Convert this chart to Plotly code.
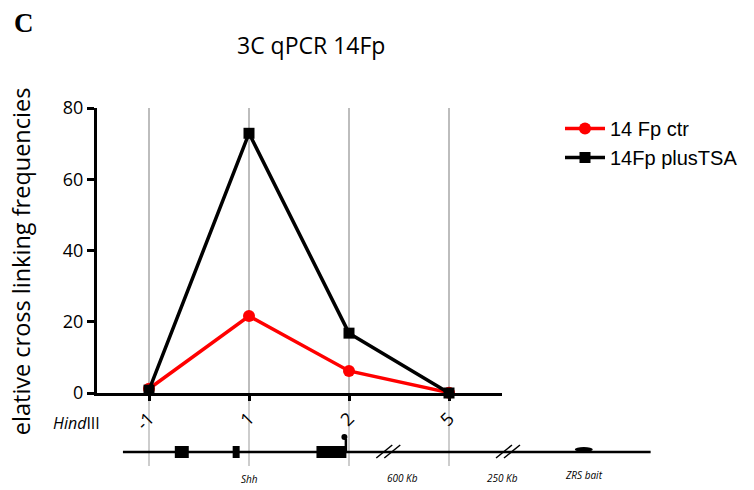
import plotly.graph_objects as go

# 3C-qPCR interaction profile, ZRS bait
sites = ["-1", "1", "2", "5"]
ctr_values = [1.2, 21.6, 6.2, 0.1]
tsa_values = [0.8, 72.9, 16.8, 0.0]
series_names = ["14 Fp ctr", "14Fp plusTSA"]
y_ticks = [0, 20, 40, 60, 80]

pos = list(range(len(sites)))

fig = go.Figure()
fig.add_trace(go.Scatter(
    x=pos, y=ctr_values, name=series_names[0], mode="lines+markers",
    line=dict(color="#ff0000", width=3.5),
    marker=dict(symbol="circle", size=12, color="#ff0000"),
    cliponaxis=False,
))
fig.add_trace(go.Scatter(
    x=pos, y=tsa_values, name=series_names[1], mode="lines+markers",
    line=dict(color="#000000", width=3.5),
    marker=dict(symbol="square", size=11, color="#000000"),
    cliponaxis=False,
))

W, H = 754, 490
L, R, T, B = 97, 251, 108, 97
PW, PH = W - L - R, H - T - B


def px(x):
    """horizontal pixel -> paper fraction"""
    return (x - L) / PW


def py(y):
    """vertical pixel -> paper fraction"""
    return (H - B - y) / PH


shapes = []
# site guides continued below the axis down through the locus map
for p in pos:
    shapes.append(dict(type="line", xref="x", yref="paper", x0=p, x1=p,
                       y0=0, y1=py(466), line=dict(color="#bdbdbd", width=1.5),
                       layer="below"))

# locus map
black = dict(color="black", width=2.5)
shapes.append(dict(type="line", xref="paper", yref="paper",
                   x0=px(123), x1=px(652), y0=py(452), y1=py(452), line=black))
for x0, x1 in [(175, 189), (233, 240), (317, 347)]:
    shapes.append(dict(type="rect", xref="paper", yref="paper",
                       x0=px(x0), x1=px(x1), y0=py(446), y1=py(458),
                       fillcolor="black", line=dict(width=0)))
# promoter hook
shapes.append(dict(type="line", xref="paper", yref="paper",
                   x0=px(346.5), x1=px(346.5), y0=py(452), y1=py(439), line=black))
shapes.append(dict(type="circle", xref="paper", yref="paper",
                   x0=px(342), x1=px(348), y0=py(434), y1=py(440),
                   fillcolor="black", line=dict(width=0)))
# axis breaks
for bx in [377, 385, 497, 505]:
    shapes.append(dict(type="line", xref="paper", yref="paper",
                       x0=px(bx), x1=px(bx + 16), y0=py(458), y1=py(445),
                       line=dict(color="black", width=1.5)))
# ZRS
shapes.append(dict(type="circle", xref="paper", yref="paper",
                   x0=px(576), x1=px(594), y0=py(447), y1=py(452),
                   fillcolor="black", line=dict(width=0)))

annotations = [
    dict(text="<b>C</b>", x=px(12), y=py(23), xanchor="left", yanchor="middle",
         font=dict(family="Liberation Serif", size=27, color="black")),
    dict(text="3C qPCR 14Fp", x=px(312), y=py(45), xanchor="center", yanchor="middle",
         font=dict(family="Open Sans", size=23, color="black")),
    dict(text="elative cross linking frequencies", x=px(21), y=py(261),
         xanchor="center", yanchor="middle", textangle=-90,
         font=dict(family="Open Sans", size=23.5, color="black")),
    dict(text="<i>Hind</i>III", x=px(51), y=py(423), xanchor="left", yanchor="middle",
         font=dict(family="Open Sans", size=16, color="black")),
    dict(text="<i>Shh</i>", x=px(250), y=py(479), xanchor="center", yanchor="middle",
         font=dict(family="Open Sans", size=10, color="black")),
    dict(text="<i>600 Kb</i>", x=px(403), y=py(478), xanchor="center", yanchor="middle",
         font=dict(family="Open Sans", size=10, color="black")),
    dict(text="<i>250 Kb</i>", x=px(503), y=py(478), xanchor="center", yanchor="middle",
         font=dict(family="Open Sans", size=10, color="black")),
    dict(text="<i>ZRS bait</i>", x=px(585), y=py(475), xanchor="center", yanchor="middle",
         font=dict(family="Open Sans", size=10, color="black")),
]
for a in annotations:
    a.update(xref="paper", yref="paper", showarrow=False)

fig.update_layout(
    width=W, height=H,
    margin=dict(l=L, r=R, t=T, b=B, pad=0),
    paper_bgcolor="white", plot_bgcolor="white",
    font=dict(family="Open Sans", color="black"),
    showlegend=True,
    legend=dict(x=px(560), y=py(109), xanchor="left", yanchor="top",
                font=dict(family="Liberation Sans", size=20, color="black"),
                bgcolor="rgba(0,0,0,0)", itemwidth=40),
    shapes=shapes,
    annotations=annotations,
)
fig.update_xaxes(
    range=[-0.52, 3.53], tickvals=pos, ticktext=sites, tickangle=-45,
    showgrid=True, gridcolor="#bdbdbd", gridwidth=1.5,
    showline=True, linecolor="black", linewidth=3,
    ticks="outside", ticklen=5, tickwidth=2.5, tickcolor="black",
    tickfont=dict(family="Open Sans", size=18, color="black"),
    zeroline=False, fixedrange=True,
)
fig.update_yaxes(
    range=[0, 80], tickvals=y_ticks,
    showgrid=False, zeroline=False,
    showline=True, linecolor="black", linewidth=3,
    ticks="outside", ticklen=7, tickwidth=3, tickcolor="black",
    tickfont=dict(family="Open Sans", size=18, color="black"),
    fixedrange=True,
)

fig.write_html("out.html")
